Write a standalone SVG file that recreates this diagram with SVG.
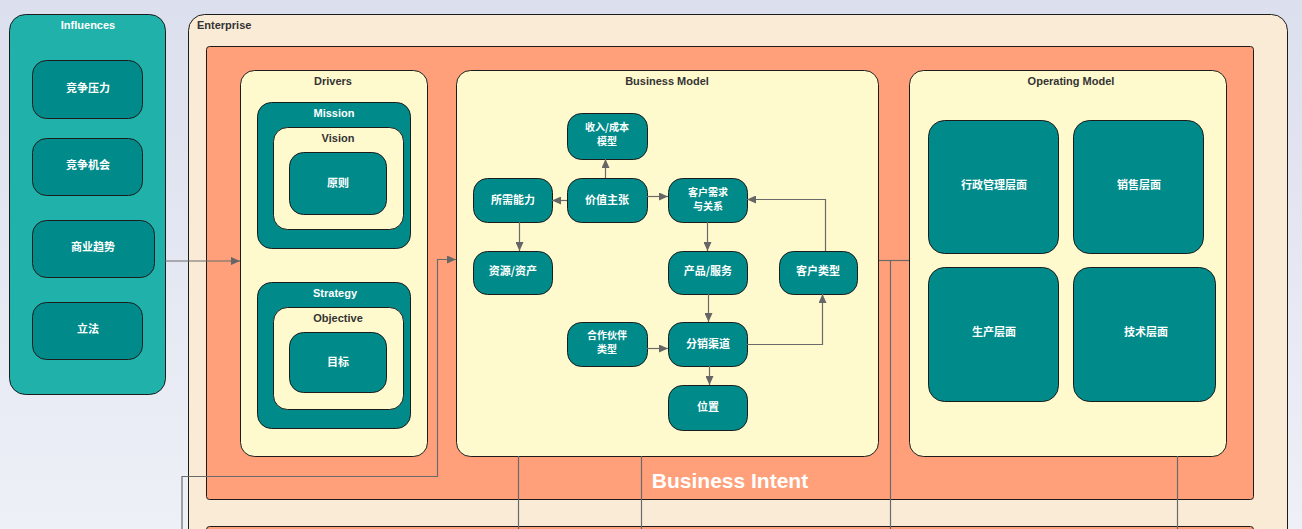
<svg xmlns="http://www.w3.org/2000/svg" width="1302" height="529" viewBox="0 0 1302 529">
<defs>
<linearGradient id="bg" x1="0" y1="0" x2="0" y2="1">
<stop offset="0" stop-color="#dcdfed"/>
<stop offset="1" stop-color="#eef0f7"/>
</linearGradient>
<marker id="arr" markerUnits="userSpaceOnUse" markerWidth="10" markerHeight="8" refX="9" refY="4" orient="auto">
<path d="M0,0 L9,4 L0,8 z" fill="#666"/>
</marker>
</defs>
<style>
.teal{fill:#008b8a;stroke:#1c1c1c;stroke-width:1}
.infl{fill:#20b2aa;stroke:#1c1c1c;stroke-width:1}
.lemon{fill:#fffacd;stroke:#1c1c1c;stroke-width:1}
.salmon{fill:#ffa07a;stroke:#1c1c1c;stroke-width:1}
.ent{fill:#faebd7;stroke:#1c1c1c;stroke-width:1}
.t{font-family:"Liberation Sans","Noto Sans CJK SC",sans-serif;font-size:11px;font-weight:bold;text-anchor:middle}
.w{fill:#ffffff}
.d{fill:#333333}
.c{font-family:"Noto Sans CJK SC","Liberation Sans",sans-serif;font-size:11px;font-weight:bold;text-anchor:middle;fill:#ffffff}
.c2{font-family:"Noto Sans CJK SC","Liberation Sans",sans-serif;font-size:10px;font-weight:bold;text-anchor:middle;fill:#ffffff}
.con{fill:none;stroke:#6a6a6a;stroke-width:1.2}
</style>
<rect x="0" y="0" width="1302" height="529" fill="url(#bg)"/>

<g id="influences">
<rect class="infl" x="9.5" y="14.5" width="156" height="380" rx="16"/>
<text class="t w" x="88" y="29">Influences</text>
</g>
<g id="n-jingzhengyali">
<rect class="teal" x="32.5" y="60.5" width="110" height="58" rx="14"/>
<text class="c" x="88" y="92">竞争压力</text>
</g>
<g id="n-jingzhengjihui">
<rect class="teal" x="32.5" y="138.5" width="110" height="57" rx="14"/>
<text class="c" x="88" y="169">竞争机会</text>
</g>
<g id="n-shangyequshi">
<rect class="teal" x="32.5" y="220.5" width="122" height="57" rx="14"/>
<text class="c" x="93" y="251">商业趋势</text>
</g>
<g id="n-lifa">
<rect class="teal" x="32.5" y="302.5" width="110" height="57" rx="14"/>
<text class="c" x="88" y="333">立法</text>
</g>

<g id="enterprise">
<rect class="ent" x="188.5" y="14.5" width="1099" height="560" rx="16"/>
<text class="t d" x="197" y="29" style="text-anchor:start">Enterprise</text>
</g>
<g id="business-intent">
<rect class="salmon" x="206.5" y="46.5" width="1047" height="453" rx="3"/>
<text x="730" y="488" style="font-family:'Liberation Sans',sans-serif;font-size:21px;font-weight:bold;fill:#ffffff;text-anchor:middle">Business Intent</text>
</g>
<g id="lower-layer">
<rect class="salmon" x="206.5" y="526.5" width="1047" height="60" rx="3"/>
</g>

<g id="drivers">
<rect class="lemon" x="240.5" y="70.5" width="187" height="386" rx="14"/>
<text class="t d" x="333" y="85">Drivers</text>
</g>
<g id="mission">
<rect class="teal" x="257.5" y="102.5" width="153" height="146" rx="14"/>
<text class="t w" x="334" y="117">Mission</text>
</g>
<g id="vision">
<rect class="lemon" x="273.5" y="127.5" width="130" height="102" rx="14"/>
<text class="t d" x="338" y="142">Vision</text>
</g>
<g id="n-yuanze">
<rect class="teal" x="289.5" y="152.5" width="97" height="62" rx="14"/>
<text class="c" x="338" y="187">原则</text>
</g>
<g id="strategy">
<rect class="teal" x="257.5" y="282.5" width="153" height="146" rx="14"/>
<text class="t w" x="335" y="297">Strategy</text>
</g>
<g id="objective">
<rect class="lemon" x="273.5" y="307.5" width="130" height="102" rx="14"/>
<text class="t d" x="338" y="322">Objective</text>
</g>
<g id="n-mubiao">
<rect class="teal" x="289.5" y="332.5" width="97" height="60" rx="14"/>
<text class="c" x="338" y="366">目标</text>
</g>

<g id="business-model">
<rect class="lemon" x="456.5" y="70.5" width="422" height="386" rx="14"/>
<text class="t d" x="667" y="85">Business Model</text>
</g>
<g id="n-shouru">
<rect class="teal" x="567.5" y="113.5" width="80" height="46" rx="14"/>
<text class="c2" x="607" y="131">收入/成本</text>
<text class="c2" x="607" y="145">模型</text>
</g>
<g id="n-suoxu">
<rect class="teal" x="473.5" y="178.5" width="79" height="44" rx="14"/>
<text class="c" x="513" y="204">所需能力</text>
</g>
<g id="n-jiazhi">
<rect class="teal" x="567.5" y="178.5" width="80" height="44" rx="14"/>
<text class="c" x="607" y="204">价值主张</text>
</g>
<g id="n-kehuxuqiu">
<rect class="teal" x="668.5" y="178.5" width="79" height="44" rx="14"/>
<text class="c2" x="708" y="196">客户需求</text>
<text class="c2" x="708" y="210">与关系</text>
</g>
<g id="n-ziyuan">
<rect class="teal" x="473.5" y="251.5" width="79" height="43" rx="14"/>
<text class="c" x="513" y="275">资源/资产</text>
</g>
<g id="n-chanpin">
<rect class="teal" x="668.5" y="251.5" width="79" height="43" rx="14"/>
<text class="c" x="708" y="275">产品/服务</text>
</g>
<g id="n-kehuleixing">
<rect class="teal" x="779.5" y="251.5" width="78" height="43" rx="14"/>
<text class="c" x="818" y="275">客户类型</text>
</g>
<g id="n-hezuo">
<rect class="teal" x="567.5" y="322.5" width="80" height="44" rx="14"/>
<text class="c2" x="607" y="339">合作伙伴</text>
<text class="c2" x="607" y="353">类型</text>
</g>
<g id="n-fenxiao">
<rect class="teal" x="668.5" y="322.5" width="79" height="44" rx="14"/>
<text class="c" x="708" y="348">分销渠道</text>
</g>
<g id="n-weizhi">
<rect class="teal" x="668.5" y="385.5" width="79" height="45" rx="14"/>
<text class="c" x="708" y="411">位置</text>
</g>

<g id="operating-model">
<rect class="lemon" x="909.5" y="70.5" width="317" height="386" rx="14"/>
<text class="t d" x="1071" y="85">Operating Model</text>
</g>
<g id="n-xingzheng">
<rect class="teal" x="928.5" y="120.5" width="130" height="133" rx="16"/>
<text class="c" x="994" y="189">行政管理层面</text>
</g>
<g id="n-xiaoshou">
<rect class="teal" x="1073.5" y="120.5" width="130" height="133" rx="16"/>
<text class="c" x="1139" y="189">销售层面</text>
</g>
<g id="n-shengchan">
<rect class="teal" x="928.5" y="267.5" width="130" height="134" rx="16"/>
<text class="c" x="994" y="336">生产层面</text>
</g>
<g id="n-jishu">
<rect class="teal" x="1073.5" y="267.5" width="142" height="134" rx="16"/>
<text class="c" x="1146" y="336">技术层面</text>
</g>

<g id="connectors">
<path class="con" d="M165,261 L240,261" marker-end="url(#arr)"/>
<path class="con" d="M182,529 L182,476.5 L437.5,476.5 L437.5,259.5 L456,259.5" marker-end="url(#arr)"/>
<path class="con" d="M605.5,178 L605.5,159" marker-end="url(#arr)"/>
<path class="con" d="M567,200.5 L552,200.5" marker-end="url(#arr)"/>
<path class="con" d="M647,196.5 L668,196.5" marker-end="url(#arr)"/>
<path class="con" d="M519.5,222 L519.5,251" marker-end="url(#arr)"/>
<path class="con" d="M707.5,222 L707.5,251" marker-end="url(#arr)"/>
<path class="con" d="M708.5,294 L708.5,322" marker-end="url(#arr)"/>
<path class="con" d="M709.5,366 L709.5,385" marker-end="url(#arr)"/>
<path class="con" d="M647,348.5 L668,348.5" marker-end="url(#arr)"/>
<path class="con" d="M747,344.5 L822.5,344.5 L822.5,294" marker-end="url(#arr)"/>
<path class="con" d="M825.5,251 L825.5,199.5 L747,199.5" marker-end="url(#arr)"/>
<path class="con" d="M518.5,456 L518.5,529"/>
<path class="con" d="M641.5,456 L641.5,529"/>
<path class="con" d="M879,260.5 L909,260.5"/>
<path class="con" d="M890.5,260.5 L890.5,529"/>
<path class="con" d="M1177.5,456 L1177.5,529"/>
</g>
</svg>
